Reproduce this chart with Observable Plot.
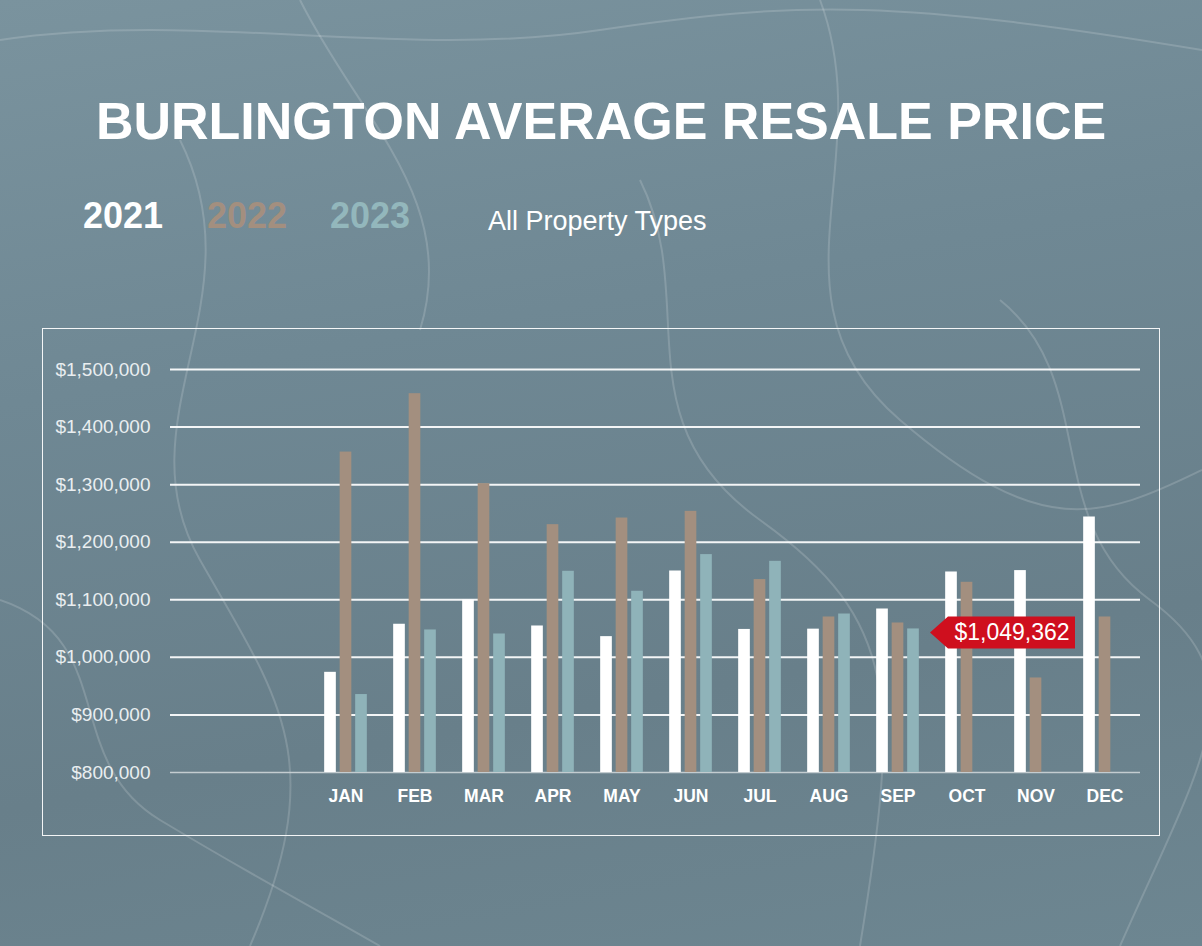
<!DOCTYPE html>
<html>
<head>
<meta charset="utf-8">
<script src="https://cdn.jsdelivr.net/npm/d3@7"></script>
<script src="https://cdn.jsdelivr.net/npm/@observablehq/plot@0.6"></script>
<style>
  html, body { margin: 0; padding: 0; }
  body {
    width: 1202px; height: 946px; overflow: hidden; position: relative;
    font-family: "Liberation Sans", Arial, sans-serif;
    background: linear-gradient(170deg, #7a939e 0%, #6f8894 35%, #687f8a 70%, #6d8691 100%);
  }
  #deco { position: absolute; left: 0; top: 0; }
  #title {
    position: absolute; left: 0; width: 1202px; top: 95px; text-align: center;
    color: #fff; font-weight: bold; font-size: 52px; line-height: 1;
  }
  .leg { position: absolute; top: 198px; font-size: 36px; font-weight: bold; line-height: 1; }
  #sub { position: absolute; left: 488px; top: 208px; font-size: 27px; color: #fff; line-height: 1; }
  #frame {
    position: absolute; left: 42px; top: 328px; width: 1116px; height: 506px;
    border: 1.5px solid rgba(255,255,255,0.92);
  }
  #chart { position: absolute; left: 0; top: 0; }
  #chart svg text { font-family: "Liberation Sans", Arial, sans-serif; }
</style>
</head>
<body>
<svg id="deco" width="1202" height="946" viewBox="0 0 1202 946">
  <g fill="none" stroke="#ffffff" stroke-opacity="0.16" stroke-width="2">
    <path d="M0,40 C200,10 400,60 600,30 S900,0 1202,50"/>
    <path d="M180,140 C260,300 120,420 200,560 S330,760 250,946"/>
    <path d="M820,0 C880,160 760,300 900,420 S1100,520 1202,470"/>
    <path d="M0,600 C120,640 60,760 160,820 S300,900 380,946"/>
    <path d="M640,180 C700,300 620,420 760,520 S900,700 860,946"/>
    <path d="M1000,300 C1100,380 1040,520 1150,600 S1202,760 1120,946"/>
    <path d="M300,0 C360,120 460,200 420,330"/>
  </g>
</svg>
<div id="title">BURLINGTON AVERAGE RESALE PRICE</div>
<div class="leg" style="left:83px;color:#ffffff">2021</div>
<div class="leg" style="left:207px;color:#a38f7f">2022</div>
<div class="leg" style="left:330px;color:#93b7bc">2023</div>
<div id="sub">All Property Types</div>
<div id="frame"></div>
<div id="chart"></div>
<script>
const months = ["JAN","FEB","MAR","APR","MAY","JUN","JUL","AUG","SEP","OCT","NOV","DEC"];
const v2021 = [974000,1057500,1099700,1054500,1036000,1150000,1048500,1049000,1084000,1148300,1150700,1243800];
const v2022 = [1356600,1458000,1301700,1230500,1242000,1253600,1135100,1070100,1059700,1130400,964200,1070100];
const v2023 = [935400,1047600,1040600,1149500,1114800,1178500,1166800,1075300,1049362];
const yTicks = [800000,900000,1000000,1100000,1200000,1300000,1400000,1500000];
const colors = {2021: "#ffffff", 2022: "#a38f7f", 2023: "#8fb3b9"};
const calloutMonth = "SEP";
const calloutValue = 1049362;

const rows = (vals, year) => vals.map((v, i) => ({month: months[i], value: v, year}));
const d21 = rows(v2021, 2021), d22 = rows(v2022, 2022), d23 = rows(v2023, 2023);

const barW = 12, gap = 15.5, step = (1141 - 309) / 12;
const inset = (step - barW) / 2;
const bar = (data, year, dx) => Plot.barY(data, {
  x: "month", y1: 800000, y2: "value", fill: colors[year],
  insetLeft: inset, insetRight: inset, dx
});

const plot = Plot.plot({
  width: 1202, height: 946,
  marginTop: 369, marginBottom: 174, marginLeft: 170, marginRight: 62,
  style: {background: "transparent", color: "#e9eef0", overflow: "visible"},
  x: {domain: months, range: [309, 1141], padding: 0, axis: null},
  y: {domain: [800000, 1500000], axis: null},
  marks: [
    Plot.ruleY(yTicks.slice(1), {stroke: "#ffffff", strokeWidth: 2, strokeOpacity: 0.92}),
    Plot.ruleY([800000], {stroke: "#c3ccd0", strokeWidth: 1.5}),
    bar(d21, 2021, -gap),
    bar(d22, 2022, 0),
    bar(d23, 2023, gap),
    Plot.axisY({ticks: yTicks, tickSize: 0, tickPadding: 20, tickFormat: d3.format("$,"), fontSize: 19, label: null}),
    Plot.axisX({tickSize: 0, tickPadding: 17, fontSize: 17.5, fontWeight: "bold", label: null, fill: "#ffffff"})
  ]
});
document.getElementById("chart").appendChild(plot);

// Callout anchored through the plot's scales
const xs = plot.scale("x"), ys = plot.scale("y");
const tipX = xs.apply(calloutMonth) + xs.bandwidth / 2 + gap + barW / 2 + 11;
const tipY = ys.apply(calloutValue) + 4;
const svg = d3.select(plot);
const g = svg.append("g").attr("transform", `translate(${tipX},${tipY})`);
g.append("path")
  .attr("d", "M0,0 L18,-16 L145,-16 L145,16 L18,16 Z")
  .attr("fill", "#cf0f1e");
g.append("text")
  .attr("x", 82).attr("y", 8)
  .attr("text-anchor", "middle")
  .attr("fill", "#ffffff")
  .style("font-size", "23px")
  .style("font-family", "'Liberation Sans Narrow', 'Liberation Sans', Arial, sans-serif")
  .text(d3.format("$,")(calloutValue));
</script>
</body>
</html>
